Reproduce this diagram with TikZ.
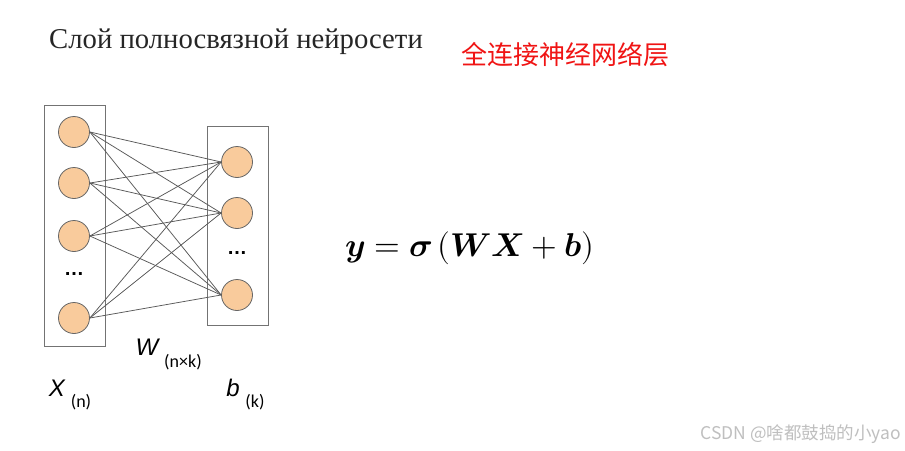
\documentclass[tikz,border=0pt]{standalone}
\usepackage{fontspec}
\setmainfont{Liberation Serif}
\newfontfamily\cjk{Noto Sans CJK SC}
\newfontfamily\arialf{Liberation Sans}
\newfontfamily\carl{Carlito}
\usepackage{unicode-math}
\setmathfont{Latin Modern Math}
\begin{document}
\begin{tikzpicture}[x=1pt,y=-1pt,
  neuron/.style={circle,draw=black!60,fill={rgb,255:red,249;green,203;blue,156},minimum size=31pt,inner sep=0pt,line width=0.8pt},
  layerbox/.style={draw=black!55,line width=0.9pt},
  link/.style={draw=black!65,line width=0.75pt},
  dotsn/.style={font=\arialf\bfseries\fontsize{20}{20}\selectfont,inner sep=0pt},
  sublbl/.style={inner sep=0pt,font=\carl\fontsize{18}{18}\selectfont},
  mainlbl/.style={inner sep=0pt,font=\arialf\itshape\fontsize{24}{24}\selectfont}]
\useasboundingbox (0,0) rectangle (905,450);
\fill[white] (0,0) rectangle (905,450);
% title
\node[anchor=west,inner sep=0pt,text=black!85,font=\fontsize{28.7}{28.7}\selectfont] (title) at (49,42) {Слой полносвязной нейросети};
\node[anchor=west,inner sep=0pt,text={rgb,255:red,240;green,20;blue,20},font=\cjk\fontsize{26}{26}\selectfont] (cn) at (461,55) {全连接神经网络层};
% boxes
\draw[layerbox] (44,105) rectangle (105,346);
\draw[layerbox] (207,126) rectangle (268,325);
% left neurons
\node[neuron] (x1) at (74,132) {};
\node[neuron] (x2) at (74,183) {};
\node[neuron] (x3) at (74,236) {};
\node[dotsn] (xd) at (74,274) {…};
\node[neuron] (x4) at (74,318) {};
% right neurons
\node[neuron] (b1) at (237,162) {};
\node[neuron] (b2) at (237,213) {};
\node[dotsn] (bd) at (237,253) {…};
\node[neuron] (b3) at (237,295) {};
% links
\foreach \i in {1,2,3,4}{
  \foreach \j in {1,2,3}{
    \draw[link] (x\i.east) -- (b\j.west);
  }
}
% labels
\node[mainlbl] (Wl) at (147,347) {W};
\node[sublbl] (Ws) at (183,362) {(n×k)};
\node[mainlbl] (Xl) at (57,388) {X};
\node[sublbl] (Xs) at (81,402) {(n)};
\node[mainlbl] (bl) at (233,388) {b};
\node[sublbl] (bs) at (255,402) {(k)};
% equation
\node[anchor=west,inner sep=0pt,font=\fontsize{33}{33}\selectfont] (eq) at (345,248) {$\symbfit{y}=\symbfit{\sigma}\,(\symbfit{W}\symbfit{X}+\symbfit{b})$};
% watermark
\node[anchor=east,inner sep=0pt,text=black!25,font=\cjk\fontsize{17.5}{17.5}\selectfont] (wm) at (901,434) {CSDN @啥都鼓捣的小yao};
\end{tikzpicture}
\end{document}
